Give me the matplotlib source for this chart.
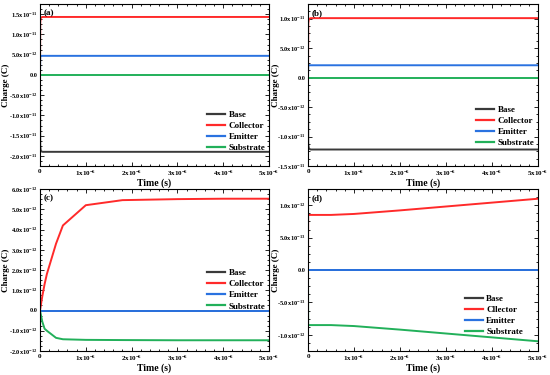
import numpy as np
import matplotlib
matplotlib.use("Agg")
import matplotlib.pyplot as plt
from matplotlib.ticker import FixedLocator, AutoMinorLocator

plt.rcParams['font.family'] = ['Liberation Serif', 'DejaVu Serif']
plt.rcParams['font.weight'] = 'bold'
plt.rcParams['mathtext.fontset'] = 'custom'
plt.rcParams['mathtext.rm'] = 'Liberation Serif:bold'
plt.rcParams['mathtext.default'] = 'rm'

# --- data, time in seconds, charge in coulombs ---
t_a = [0, 0.005e-6, 0.015e-6, 0.03e-6, 0.06e-6, 0.1e-6, 5e-6]
base_a = [0, -1.75e-11, -1.86e-11, -1.89e-11, -1.9e-11, -1.9e-11, -1.9e-11]
coll_a = [0, 1.3e-11, 1.40e-11, 1.42e-11, 1.43e-11, 1.43e-11, 1.43e-11]
emit_a = [0, 4.6e-12, 4.7e-12, 4.7e-12, 4.7e-12, 4.7e-12, 4.7e-12]
subs_a = [0, 0, 0, 0, 0, 0, 0]

t_b = [0, 0.005e-6, 0.015e-6, 0.03e-6, 0.06e-6, 0.1e-6, 5e-6]
base_b = [0, -1.12e-11, -1.19e-11, -1.21e-11, -1.22e-11, -1.22e-11, -1.22e-11]
coll_b = [0, 0.92e-11, 0.98e-11, 1.0e-11, 1.01e-11, 1.01e-11, 1.01e-11]
emit_b = [0, 2.1e-12, 2.1e-12, 2.1e-12, 2.1e-12, 2.1e-12, 2.1e-12]
subs_b = [0, 0, 0, 0, 0, 0, 0]

t_c = [0, 0.05e-6, 0.1e-6, 0.15e-6, 0.35e-6, 0.5e-6, 1.0e-6, 1.8e-6, 3.0e-6, 4.0e-6, 5.0e-6]
base_c = [0, 0, 0, 0, 0, 0, 0, 0, 0, 0, 0]
coll_c = [0, 0.7e-12, 1.3e-12, 1.8e-12, 3.3e-12, 4.2e-12, 5.2e-12, 5.45e-12, 5.5e-12, 5.52e-12, 5.52e-12]
emit_c = [0, 0, 0, 0, 0, 0, 0, 0, 0, 0, 0]
subs_c = [0, -0.55e-12, -0.9e-12, -1.0e-12, -1.35e-12, -1.42e-12, -1.45e-12, -1.46e-12, -1.47e-12, -1.47e-12, -1.47e-12]

t_d = [0, 0.003e-6, 0.5e-6, 1.0e-6, 2.0e-6, 3.0e-6, 4.0e-6, 5.0e-6]
base_d = [0, 0, 0, 0, 0, 0, 0, 0]
coll_d = [0, 0.85e-12, 0.85e-12, 0.865e-12, 0.92e-12, 0.98e-12, 1.04e-12, 1.10e-12]
emit_d = [0, 0, 0, 0, 0, 0, 0, 0]
subs_d = [0, -0.85e-12, -0.85e-12, -0.865e-12, -0.92e-12, -0.98e-12, -1.04e-12, -1.10e-12]

x_ticks = [0, 1e-6, 2e-6, 3e-6, 4e-6, 5e-6]
x_labels = ['0', r'1x10$^{-6}$', r'2x10$^{-6}$', r'3x10$^{-6}$', r'4x10$^{-6}$', r'5x10$^{-6}$']

yt_a = [1.5e-11, 1.0e-11, 5e-12, 0, -5e-12, -1.0e-11, -1.5e-11, -2.0e-11]
yl_a = [r'1.5x10$^{-11}$', r'1.0x10$^{-11}$', r'5.0x10$^{-12}$', '0.0', r'-5.0x10$^{-12}$',
        r'-1.0x10$^{-11}$', r'-1.5x10$^{-11}$', r'-2.0x10$^{-11}$']
yt_b = [1.0e-11, 5e-12, 0, -5e-12, -1.0e-11, -1.5e-11]
yl_b = [r'1.0x10$^{-11}$', r'5.0x10$^{-12}$', '0.0', r'-5.0x10$^{-12}$', r'-1.0x10$^{-11}$', r'-1.5x10$^{-11}$']
yt_c = [6e-12, 5e-12, 4e-12, 3e-12, 2e-12, 1e-12, 0, -1e-12, -2e-12]
yl_c = [r'6.0x10$^{-12}$', r'5.0x10$^{-12}$', r'4.0x10$^{-12}$', r'3.0x10$^{-12}$', r'2.0x10$^{-12}$',
        r'1.0x10$^{-12}$', '0.0', r'-1.0x10$^{-12}$', r'-2.0x10$^{-12}$']
yt_d = [1.0e-12, 5e-13, 0, -5e-13, -1.0e-12]
yl_d = [r'1.0x10$^{-12}$', r'5.0x10$^{-13}$', '0.0', r'-5.0x10$^{-13}$', r'-1.0x10$^{-12}$']

colors = {'Base': '#3a3a3a', 'Collector': '#ff2a2a', 'Emitter': '#2a72e0', 'Substrate': '#22b05a'}

panels = [
    ('(a)', t_a, [base_a, coll_a, emit_a, subs_a], ['Base', 'Collector', 'Emitter', 'Substrate'],
     (-2.25e-11, 1.75e-11), yt_a, yl_a),
    ('(b)', t_b, [base_b, coll_b, emit_b, subs_b], ['Base', 'Collector', 'Emitter', 'Substrate'],
     (-1.5e-11, 1.25e-11), yt_b, yl_b),
    ('(c)', t_c, [base_c, coll_c, emit_c, subs_c], ['Base', 'Collector', 'Emitter', 'Substrate'],
     (-2e-12, 6e-12), yt_c, yl_c),
    ('(d)', t_d, [base_d, coll_d, emit_d, subs_d], ['Base', 'Cllector', 'Emitter', 'Substrate'],
     (-1.25e-12, 1.25e-12), yt_d, yl_d),
]

# layout in pixels: axes box, y-label x offset (axes frac), legend anchor (axes frac)
W, H = 550, 375
boxes = [(40, 4, 229, 162), (308, 4, 230, 162), (40, 189, 229, 162), (308, 189, 230, 162)]
ylab_x = [-0.13, -0.12, -0.13, -0.12]
leg_anchor = [(0.985, 0.085), (0.985, 0.115), (0.985, 0.25), (0.935, 0.09)]

fig = plt.figure(figsize=(5.5, 3.75), dpi=100)
for i, ((tag, t, series, names, ylim, yt, yl), (x0, y0, w, h)) in enumerate(zip(panels, boxes)):
    ax = fig.add_axes([x0 / W, 1 - (y0 + h) / H, w / W, h / H])
    keys = ['Base', 'Collector', 'Emitter', 'Substrate']
    for ys, name, key in zip(series, names, keys):
        ax.plot(t, ys, color=colors[key], lw=1.4, label=name)
    ax.set_xlim(0, 5e-6)
    ax.set_ylim(*ylim)
    ax.xaxis.set_major_locator(FixedLocator(x_ticks))
    ax.set_xticklabels(x_labels, fontsize=5, fontweight='bold')
    ax.yaxis.set_major_locator(FixedLocator(yt))
    ax.set_yticklabels(yl, fontsize=4.6, fontweight='bold')
    ax.xaxis.set_minor_locator(AutoMinorLocator(5))
    ax.yaxis.set_minor_locator(AutoMinorLocator(4))
    ax.tick_params(which='both', direction='in', top=True, right=True, width=0.6)
    ax.tick_params(which='major', length=3, pad=2)
    ax.tick_params(which='minor', length=1.5)
    for s in ax.spines.values():
        s.set_linewidth(0.8)
    ax.set_xlabel('Time (s)', fontsize=7, fontweight='bold', labelpad=0)
    ax.set_ylabel('Charge (C)', fontsize=6.5, fontweight='bold')
    ax.yaxis.set_label_coords(ylab_x[i], 0.5)
    ax.text(0.015, 0.97, tag, transform=ax.transAxes, ha='left', va='top', fontsize=6.5, fontweight='bold')
    leg = ax.legend(loc='lower right', bbox_to_anchor=leg_anchor[i], frameon=False,
                    prop={'family': 'Liberation Serif', 'weight': 'bold', 'size': 6.5},
                    handlelength=2.0, handletextpad=0.4, labelspacing=0.3, borderaxespad=0, borderpad=0)
    for ln in leg.get_lines():
        ln.set_linewidth(1.6)

fig.savefig('out.png', dpi=100)
